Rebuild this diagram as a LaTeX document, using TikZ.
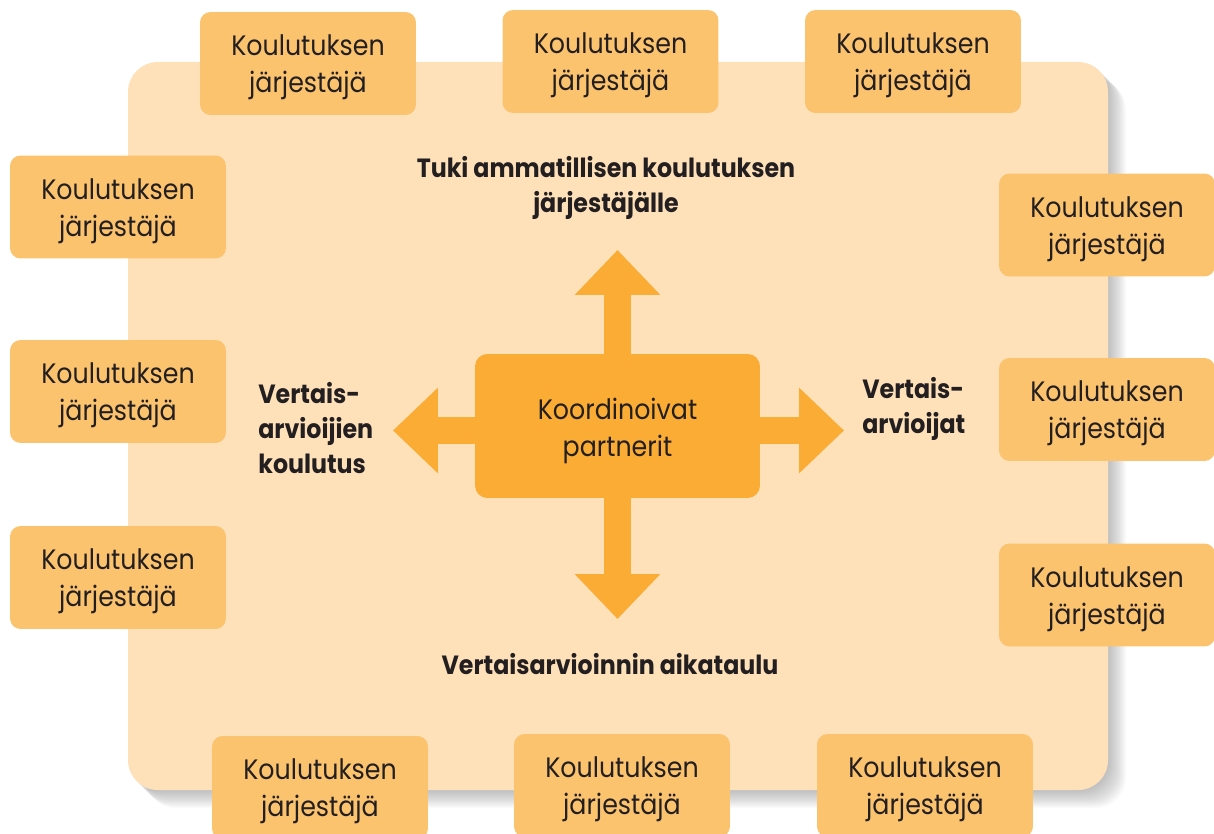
\documentclass[tikz,border=0pt]{standalone}
\usepackage{fontspec}
\setmainfont{Poppins}[FakeStretch=0.9]
\usetikzlibrary{arrows.meta,calc}
\definecolor{panel}{HTML}{FEE1B9}
\definecolor{box}{HTML}{FCC36F}
\definecolor{core}{HTML}{FAAC34}
\definecolor{txt}{HTML}{231F20}
\newcommand\kjtext{Koulutuksen\\järjestäjä}
\tikzset{
  ktext/.style={inner sep=0pt, align=center, text=txt, yshift=-0.08cm,
    font=\fontsize{16}{21}\selectfont},
  kbox/.style={fill=box, rounded corners=6pt, minimum width=4.32cm, minimum height=2.06cm,
    inner sep=0pt, label={[ktext]center:\kjtext}},
  cbox/.style={fill=core, rounded corners=7pt, minimum width=5.7cm, minimum height=2.88cm,
    inner sep=0pt},
  lbl/.style={inner sep=0pt, text=txt, font=\bfseries\fontsize{15}{20}\selectfont},
  bigarrow/.style={draw=core, line width=0.54cm,
    -{Triangle[width=1.66cm,length=0.9cm]}},
}
\begin{document}
\begin{tikzpicture}[x=0.02cm,y=-0.02cm]
\useasboundingbox (0,0) rectangle (1214,834);
\clip (0,0) rectangle (1214,834);
% shadow of the panel
\foreach \i in {1,...,18}{
  \fill[black,opacity=0.017,rounded corners=17pt] (128+\i,62+\i) rectangle (1108+\i,790+\i);
}
\fill[panel,rounded corners=17pt] (128,62) rectangle (1108,790);

% central node
\node[cbox,label={[ktext,yshift=-0.02cm]center:Koordinoivat\\partnerit}] (c) at (617.5,426) {};

% labels
\node[lbl,align=center] (top) at (606,188) {Tuki ammatillisen koulutuksen\\järjestäjälle};
\node[lbl,align=left,anchor=west] (left) at (258,428) {Vertais-\\arvioijien\\koulutus};
\node[lbl,align=left,anchor=west] (right) at (862,409) {Vertais-\\arvioijat};
\node[lbl] (bottom) at (610,664) {Vertaisarvioinnin aikataulu};

% arrows
\coordinate (tu) at (617.5,250);
\coordinate (td) at (617.5,619);
\coordinate (tl) at (393,430.5);
\coordinate (tr) at (844,430.5);
\draw[bigarrow] (c.north) -- (tu);
\draw[bigarrow] (c.south) -- (td);
\draw[bigarrow] ($(c.west)+(0,4.5)$) -- (tl);
\draw[bigarrow] ($(c.east)+(0,4.5)$) -- (tr);

% organiser boxes
\node[kbox] (b1) at (308,63.5) {};
\node[kbox] (b2) at (610.5,61.5) {};
\node[kbox] (b3) at (913,61.5) {};
\node[kbox] (b4) at (118,207) {};
\node[kbox] (b5) at (118,391.5) {};
\node[kbox] (b6) at (118,577.5) {};
\node[kbox] (b7) at (1107,225) {};
\node[kbox] (b8) at (1107,409.5) {};
\node[kbox] (b9) at (1107,595) {};
\node[kbox] (b10) at (320,787.5) {};
\node[kbox] (b11) at (622,785.5) {};
\node[kbox] (b12) at (925,785.5) {};
\end{tikzpicture}
\end{document}
